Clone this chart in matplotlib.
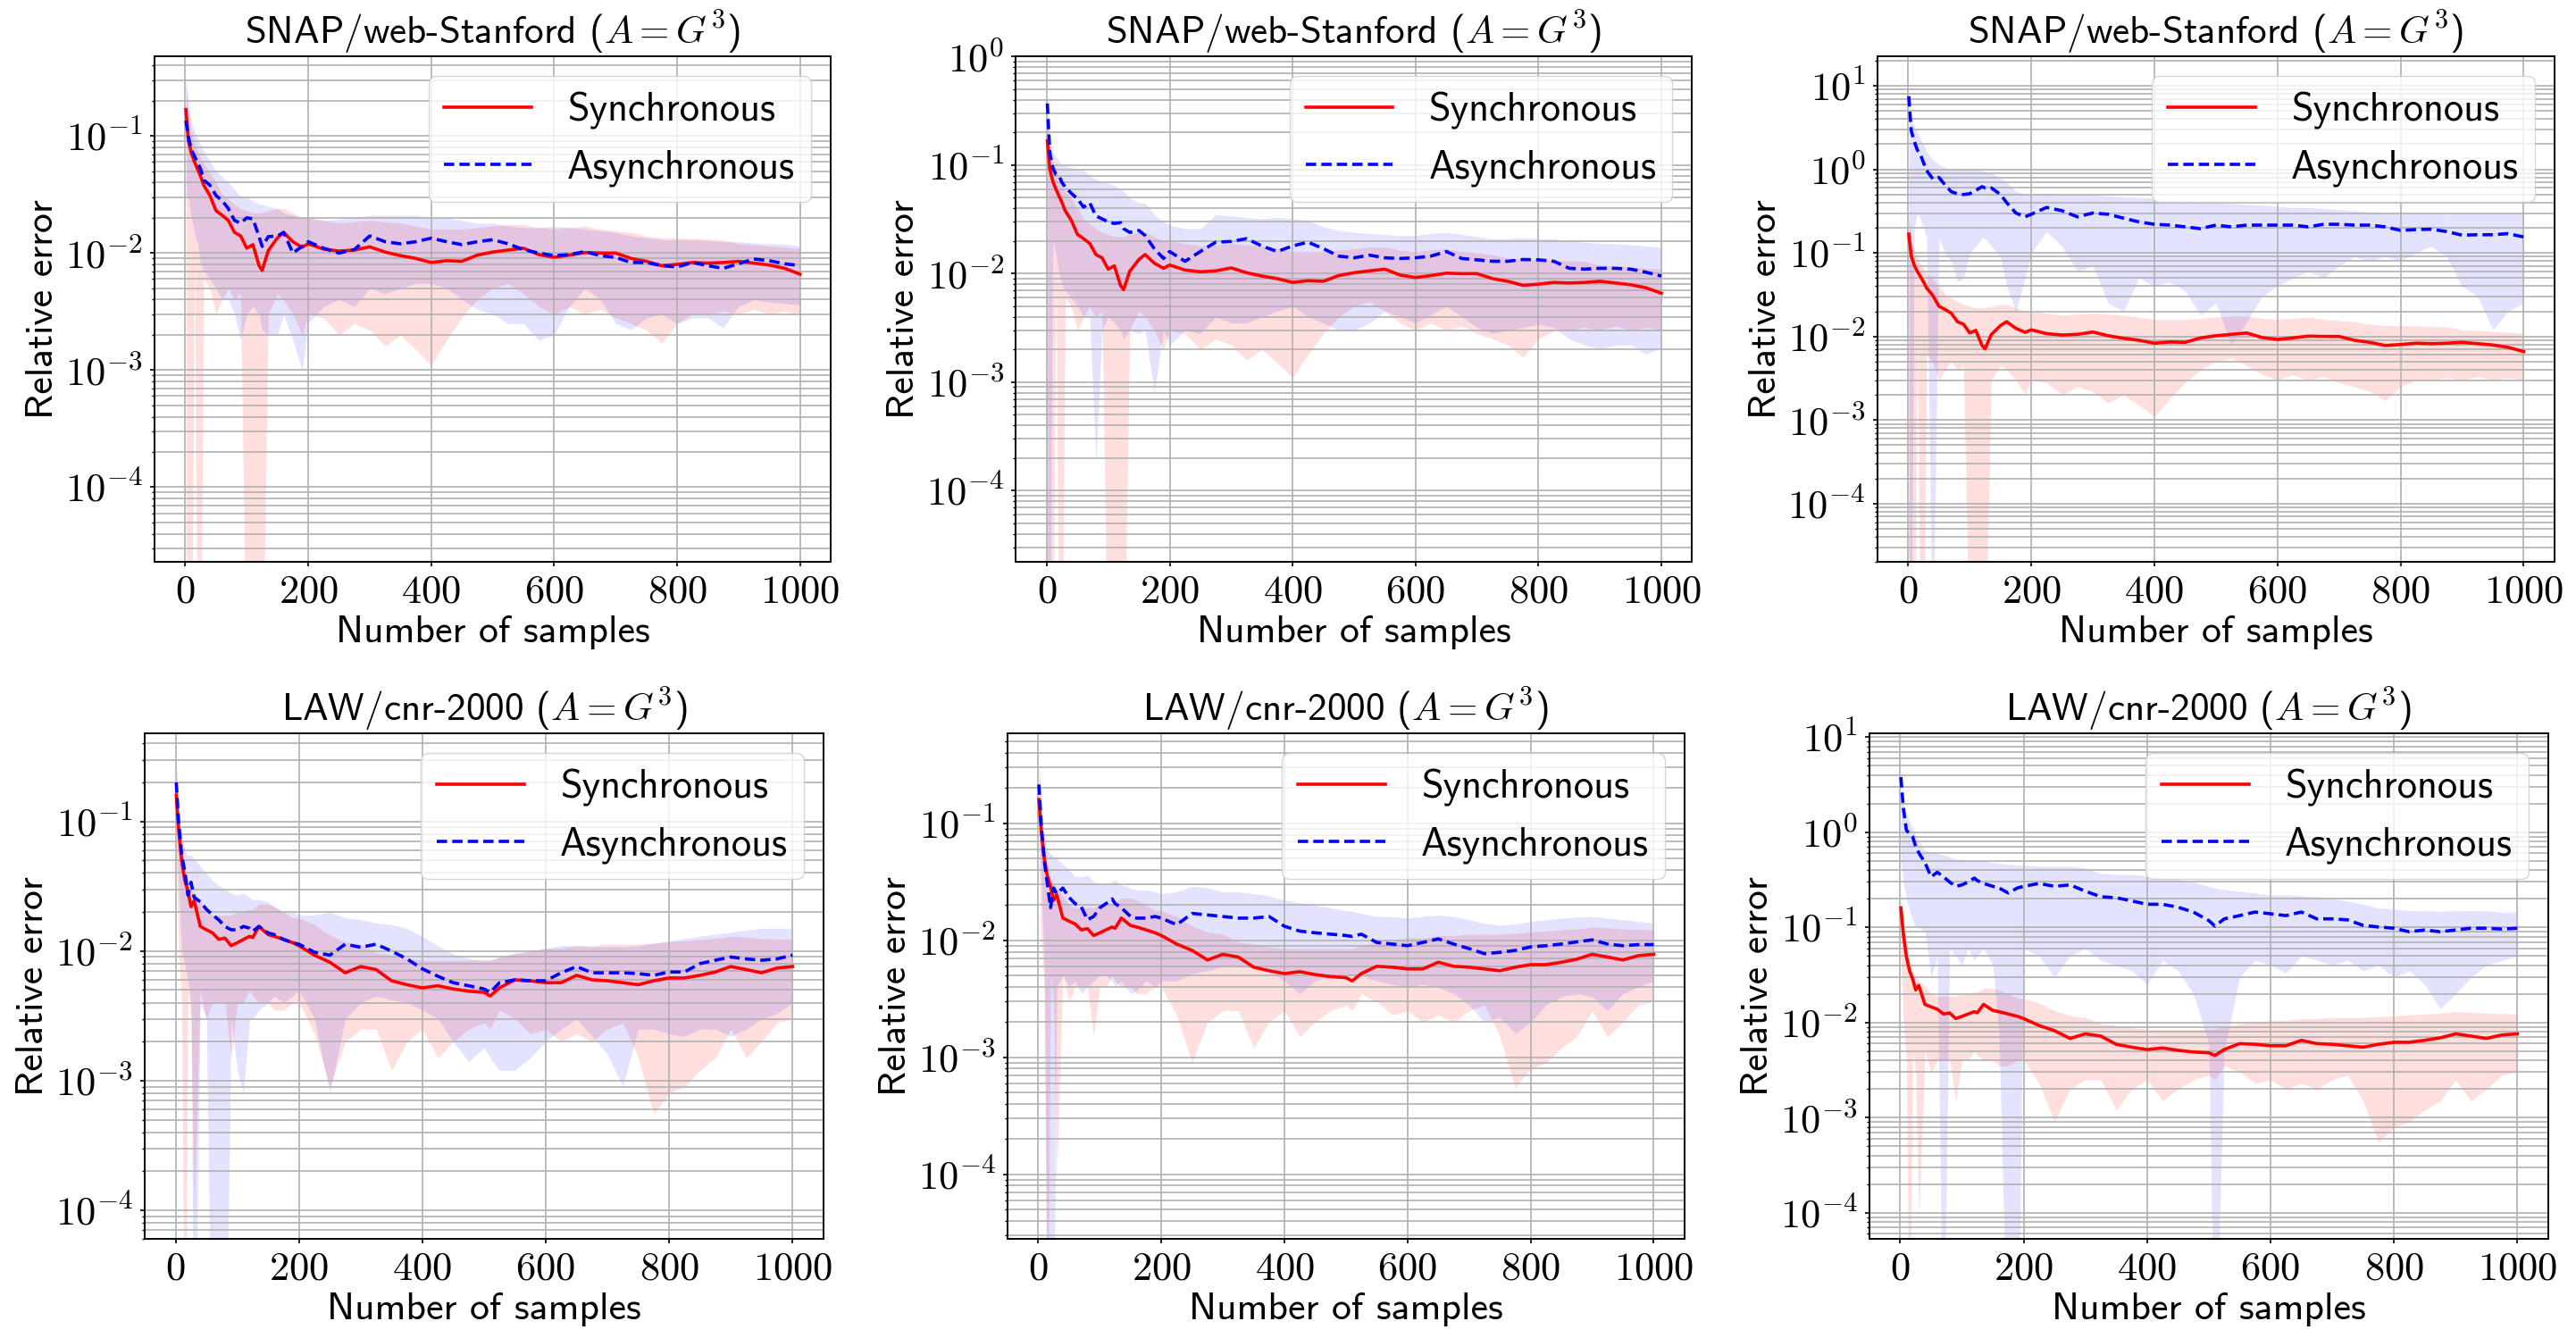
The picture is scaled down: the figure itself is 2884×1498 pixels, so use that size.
import numpy as np
import matplotlib
matplotlib.use("Agg")
import matplotlib.pyplot as plt
from matplotlib.ticker import LogLocator, NullFormatter, FuncFormatter

plt.rcParams['font.family'] = 'cmss10'
plt.rcParams['mathtext.fontset'] = 'cm'
plt.rcParams['axes.unicode_minus'] = False

# sample positions (top row: SNAP, bottom row: LAW)
x_snap = [1, 5, 10, 15, 20, 25, 30, 40, 50, 60, 70, 80, 90, 100, 110, 120, 125, 135, 150, 160, 175, 190,
          200, 225, 250, 275, 300, 325, 350, 375, 400, 425, 450, 475, 500, 525, 550, 575, 600, 625, 650,
          675, 700, 725, 750, 775, 800, 825, 850, 875, 900, 925, 950, 975, 1000]
x_law = [1, 5, 10, 15, 20, 25, 30, 40, 50, 60, 70, 80, 90, 100, 110, 120, 125, 135, 150, 160, 175, 190,
         200, 225, 250, 275, 300, 325, 350, 375, 400, 425, 450, 475, 500, 510, 525, 550, 575, 600, 625, 650,
         675, 700, 725, 750, 775, 800, 825, 850, 875, 900, 925, 950, 975, 1000]

# synchronous (same in every panel of a row)
sync_snap = [0.168, 0.092, 0.071, 0.060, 0.052, 0.045, 0.038, 0.031, 0.023, 0.021, 0.019, 0.015, 0.014, 0.011, 0.0118, 0.0078, 0.0071, 0.0105, 0.0135, 0.0150, 0.0125, 0.0112,
             0.0120, 0.0108, 0.0104, 0.0106, 0.0113, 0.0102, 0.0095, 0.0090, 0.0083, 0.0086, 0.0085, 0.0096, 0.0102, 0.0106, 0.0110, 0.0097, 0.0092, 0.0096, 0.0101, 0.0100, 0.0100, 0.0090, 0.0085, 0.0078, 0.0080, 0.0083, 0.0082, 0.0083, 0.0085, 0.0082, 0.0079, 0.0074, 0.0066]
sync_snap_hi = [0.30, 0.15, 0.11, 0.09, 0.075, 0.065, 0.058, 0.049, 0.040, 0.032, 0.029, 0.026, 0.024, 0.023, 0.022, 0.022, 0.022, 0.023, 0.024, 0.024, 0.022, 0.020,
                0.020, 0.019, 0.018, 0.0185, 0.019, 0.0185, 0.018, 0.017, 0.016, 0.016, 0.016, 0.0165, 0.017, 0.0175, 0.0175, 0.0165, 0.016, 0.0165, 0.017, 0.016, 0.0155, 0.015, 0.014, 0.0135, 0.0135, 0.0133, 0.0132, 0.013, 0.012, 0.0118, 0.0115, 0.0112, 0.011]
sync_snap_lo = [1e-6, 1e-6, 1e-6, 0.01, 1e-6, 1e-6, 0.006, 0.005, 0.003, 0.004, 0.005, 0.004, 0.0045, 1e-6, 1e-6, 1e-6, 1e-6, 0.003, 0.0045, 0.004, 0.003, 0.002,
                0.003, 0.0028, 0.002, 0.0025, 0.0022, 0.0016, 0.002, 0.0015, 0.0011, 0.0018, 0.0028, 0.004, 0.005, 0.0055, 0.0045, 0.0035, 0.003, 0.0035, 0.003, 0.0033, 0.0028, 0.0025, 0.0022, 0.0017, 0.0025, 0.003, 0.003, 0.0032, 0.003, 0.0033, 0.003, 0.0032, 0.003]

sync_law = [0.16, 0.086, 0.049, 0.035, 0.029, 0.022, 0.0245, 0.0155, 0.0146, 0.0138, 0.0123, 0.0126, 0.011, 0.0116, 0.0123, 0.013, 0.0127, 0.0155, 0.0134, 0.013, 0.0123, 0.0116,
            0.011, 0.0093, 0.0082, 0.0068, 0.0076, 0.0072, 0.0059, 0.0055, 0.0052, 0.0054, 0.0051, 0.0049, 0.0048, 0.0045, 0.0052, 0.006, 0.0059, 0.0057, 0.0057, 0.0065, 0.006, 0.0059, 0.0057, 0.0055, 0.0059, 0.0062, 0.0062, 0.0065, 0.0069, 0.0076, 0.0072, 0.0068, 0.0074, 0.0076]
sync_law_hi = [0.25, 0.10, 0.07, 0.046, 0.035, 0.03, 0.028, 0.024, 0.02, 0.019, 0.019, 0.019, 0.019, 0.02, 0.02, 0.021, 0.021, 0.023, 0.023, 0.022, 0.02, 0.018,
               0.018, 0.016, 0.0133, 0.0118, 0.0113, 0.0097, 0.0093, 0.0088, 0.0085, 0.0085, 0.0085, 0.0085, 0.0085, 0.0085, 0.009, 0.0097, 0.01, 0.0105, 0.0105, 0.011, 0.011, 0.0113, 0.0113, 0.0113, 0.0115, 0.0118, 0.012, 0.0123, 0.0125, 0.013, 0.0128, 0.0125, 0.0124, 0.0123]
sync_law_lo = [0.05, 0.01, 0.004, 1e-6, 0.005, 0.003, 9e-5, 0.005, 0.003, 0.004, 0.004, 0.004, 0.0015, 0.004, 0.004, 0.005, 0.0045, 0.004, 0.004, 0.0035, 0.0035, 0.004,
               0.004, 0.0023, 0.0009, 0.002, 0.0025, 0.0025, 0.0012, 0.002, 0.0025, 0.0015, 0.002, 0.0025, 0.0028, 0.0025, 0.0035, 0.003, 0.0023, 0.0025, 0.002, 0.0023, 0.002, 0.0025, 0.0028, 0.0015, 0.00055, 0.0008, 0.0009, 0.0012, 0.0015, 0.0025, 0.0015, 0.002, 0.0028, 0.003]

# asynchronous, one per panel
async_1 = [0.135, 0.098, 0.076, 0.067, 0.059, 0.052, 0.042, 0.038, 0.031, 0.028, 0.024, 0.019, 0.018, 0.020, 0.0196, 0.0138, 0.0114, 0.0138, 0.014, 0.015, 0.010, 0.0114,
           0.0125, 0.011, 0.010, 0.0107, 0.014, 0.0125, 0.012, 0.0125, 0.0134, 0.0125, 0.0118, 0.0125, 0.013, 0.012, 0.0107, 0.010, 0.0095, 0.0097, 0.0103, 0.0095, 0.0092, 0.0083, 0.0083, 0.0078, 0.0076, 0.0083, 0.0078, 0.0074, 0.0081, 0.0089, 0.0086, 0.0081, 0.0078]
async_1_hi = [0.30, 0.20, 0.13, 0.11, 0.095, 0.085, 0.075, 0.06, 0.05, 0.045, 0.04, 0.035, 0.03, 0.03, 0.028, 0.026, 0.026, 0.025, 0.024, 0.022, 0.021, 0.02,
              0.02, 0.019, 0.0195, 0.02, 0.021, 0.021, 0.021, 0.021, 0.02, 0.02, 0.019, 0.018, 0.018, 0.017, 0.0165, 0.0165, 0.017, 0.0165, 0.016, 0.0155, 0.015, 0.014, 0.0135, 0.013, 0.013, 0.013, 0.0128, 0.0125, 0.0125, 0.0122, 0.012, 0.012, 0.0115]
async_1_lo = [0.03, 0.03, 0.02, 0.015, 0.012, 0.008, 0.007, 0.006, 0.005, 0.004, 0.004, 0.003, 0.0018, 0.003, 0.0035, 0.003, 0.0022, 0.002, 0.002, 0.003, 0.0018, 0.001,
              0.0025, 0.0035, 0.004, 0.0035, 0.005, 0.0045, 0.005, 0.0055, 0.0055, 0.005, 0.004, 0.0033, 0.003, 0.0025, 0.0025, 0.0018, 0.002, 0.0035, 0.005, 0.004, 0.0025, 0.0022, 0.0028, 0.003, 0.0025, 0.0028, 0.0028, 0.0023, 0.0035, 0.004, 0.0038, 0.0037, 0.0036]

async_2 = [0.37, 0.13, 0.094, 0.082, 0.08, 0.069, 0.063, 0.055, 0.049, 0.041, 0.045, 0.034, 0.032, 0.030, 0.029, 0.0295, 0.026, 0.024, 0.025, 0.0225, 0.017, 0.0138,
           0.016, 0.013, 0.016, 0.0195, 0.0198, 0.021, 0.018, 0.016, 0.018, 0.0195, 0.017, 0.0145, 0.014, 0.0148, 0.014, 0.0138, 0.014, 0.0145, 0.016, 0.0138, 0.0134, 0.013, 0.013, 0.0135, 0.0134, 0.013, 0.0112, 0.011, 0.0112, 0.0112, 0.011, 0.0103, 0.0095]
async_2_hi = [0.45, 0.18, 0.13, 0.12, 0.11, 0.10, 0.10, 0.095, 0.09, 0.09, 0.08, 0.075, 0.07, 0.068, 0.065, 0.06, 0.058, 0.05, 0.045, 0.045, 0.035, 0.03,
              0.028, 0.026, 0.026, 0.035, 0.034, 0.033, 0.032, 0.033, 0.032, 0.031, 0.027, 0.025, 0.024, 0.0235, 0.023, 0.0225, 0.0225, 0.0235, 0.024, 0.023, 0.022, 0.021, 0.021, 0.0215, 0.021, 0.021, 0.02, 0.0195, 0.019, 0.0188, 0.0185, 0.018, 0.0175]
async_2_lo = [1e-6, 1e-6, 0.02, 0.015, 0.01, 0.008, 0.007, 0.006, 0.005, 0.004, 0.004, 0.00018, 0.003, 0.004, 0.0035, 0.003, 0.0025, 0.003, 0.0028, 0.003, 0.0008, 0.003,
              0.0022, 0.003, 0.0028, 0.004, 0.0035, 0.0035, 0.004, 0.0045, 0.005, 0.004, 0.0035, 0.003, 0.003, 0.0035, 0.0045, 0.004, 0.0035, 0.0042, 0.005, 0.004, 0.0032, 0.0028, 0.003, 0.0032, 0.0034, 0.0032, 0.0025, 0.0022, 0.002, 0.0022, 0.0022, 0.0018, 0.0021]

async_3 = [7.5, 2.9, 2.15, 1.7, 1.5, 1.2, 0.97, 0.77, 0.8, 0.65, 0.54, 0.51, 0.50, 0.51, 0.56, 0.62, 0.6, 0.6, 0.5, 0.40, 0.30, 0.27,
           0.29, 0.35, 0.32, 0.27, 0.30, 0.29, 0.26, 0.235, 0.22, 0.215, 0.205, 0.195, 0.215, 0.205, 0.215, 0.215, 0.215, 0.215, 0.205, 0.22, 0.22, 0.215, 0.215, 0.205, 0.186, 0.19, 0.192, 0.18, 0.163, 0.165, 0.165, 0.17, 0.155]
async_3_hi = [9.0, 3.8, 3.3, 2.8, 2.3, 2.0, 1.6, 1.3, 1.15, 1.05, 1.0, 1.0, 1.0, 1.0, 1.0, 0.98, 0.95, 0.9, 0.8, 0.7, 0.55, 0.5,
              0.5, 0.52, 0.5, 0.5, 0.5, 0.48, 0.47, 0.46, 0.45, 0.43, 0.42, 0.41, 0.4, 0.39, 0.38, 0.37, 0.36, 0.35, 0.35, 0.34, 0.33, 0.32, 0.31, 0.3, 0.3, 0.3, 0.3, 0.29, 0.3, 0.3, 0.3, 0.3, 0.3]
async_3_lo = [1e-6, 1e-6, 0.2, 0.3, 0.25, 0.2, 0.15, 1e-6, 0.15, 0.1, 0.08, 0.045, 0.05, 0.1, 0.12, 0.15, 0.15, 0.12, 0.09, 0.04, 0.02, 0.05,
              0.1, 0.18, 0.12, 0.06, 0.07, 0.025, 0.02, 0.05, 0.04, 0.045, 0.035, 0.018, 0.025, 0.008, 0.015, 0.03, 0.04, 0.05, 0.06, 0.05, 0.07, 0.09, 0.08, 0.09, 0.08, 0.1, 0.12, 0.09, 0.04, 0.03, 0.012, 0.02, 0.025]

async_4 = [0.2, 0.097, 0.054, 0.041, 0.027, 0.034, 0.026, 0.024, 0.021, 0.019, 0.0174, 0.0155, 0.0146, 0.0146, 0.0155, 0.015, 0.0142, 0.0155, 0.0138, 0.0134, 0.0123, 0.0116,
           0.0113, 0.0098, 0.0093, 0.0113, 0.0107, 0.0113, 0.01, 0.0087, 0.0073, 0.0064, 0.0057, 0.0054, 0.0051, 0.0048, 0.0057, 0.006, 0.0059, 0.0059, 0.0068, 0.0076, 0.0068, 0.0068, 0.0068, 0.0067, 0.0065, 0.0069, 0.0069, 0.008, 0.0085, 0.009, 0.0087, 0.0085, 0.0087, 0.0093]
async_4_hi = [0.3, 0.13, 0.08, 0.06, 0.055, 0.055, 0.052, 0.045, 0.04, 0.035, 0.032, 0.03, 0.028, 0.027, 0.028, 0.026, 0.025, 0.025, 0.024, 0.022, 0.02, 0.02,
              0.019, 0.019, 0.02, 0.018, 0.0175, 0.0165, 0.016, 0.015, 0.013, 0.011, 0.0095, 0.0088, 0.0085, 0.0085, 0.009, 0.0095, 0.01, 0.0105, 0.011, 0.011, 0.0108, 0.0108, 0.0108, 0.011, 0.0115, 0.012, 0.0125, 0.013, 0.0135, 0.014, 0.0145, 0.015, 0.015, 0.015]
async_4_lo = [0.1, 0.03, 0.01, 0.008, 0.006, 0.004, 1e-6, 0.004, 0.003, 1e-6, 1e-6, 1e-6, 0.003, 0.0012, 0.0008, 0.003, 0.003, 0.0035, 0.004, 0.0045, 0.004, 0.0045,
              0.005, 0.003, 0.0008, 0.003, 0.004, 0.0045, 0.0042, 0.004, 0.0035, 0.003, 0.002, 0.0014, 0.0018, 0.0015, 0.0012, 0.0012, 0.0015, 0.002, 0.0025, 0.003, 0.0022, 0.0016, 0.0009, 0.0025, 0.0025, 0.0023, 0.0022, 0.0025, 0.0025, 0.0022, 0.0025, 0.003, 0.0033, 0.004]

async_5 = [0.215, 0.094, 0.047, 0.030, 0.019, 0.028, 0.025, 0.028, 0.0233, 0.0206, 0.0193, 0.015, 0.016, 0.019, 0.0206, 0.0226, 0.0206, 0.019, 0.016, 0.0155, 0.0155, 0.016,
           0.0155, 0.0136, 0.017, 0.0165, 0.016, 0.0155, 0.0155, 0.016, 0.0132, 0.012, 0.0116, 0.0113, 0.011, 0.0108, 0.0113, 0.0096, 0.0093, 0.009, 0.0096, 0.0103, 0.0093, 0.0085, 0.0077, 0.0079, 0.0082, 0.0088, 0.009, 0.0093, 0.0097, 0.0101, 0.0093, 0.009, 0.0092, 0.0092]
async_5_hi = [0.35, 0.15, 0.07, 0.06, 0.055, 0.052, 0.05, 0.045, 0.04, 0.035, 0.035, 0.036, 0.032, 0.03, 0.03, 0.032, 0.033, 0.03, 0.028, 0.027, 0.027, 0.026,
              0.025, 0.026, 0.029, 0.028, 0.026, 0.026, 0.025, 0.024, 0.022, 0.021, 0.02, 0.019, 0.018, 0.0178, 0.017, 0.016, 0.016, 0.0155, 0.016, 0.0165, 0.016, 0.015, 0.014, 0.0135, 0.0138, 0.0145, 0.015, 0.0155, 0.0158, 0.016, 0.0155, 0.015, 0.0145, 0.014]
async_5_lo = [0.1, 0.03, 0.005, 1e-6, 1e-6, 1e-6, 0.004, 0.005, 0.004, 0.0045, 0.0035, 0.004, 0.0045, 0.005, 0.005, 0.0045, 0.004, 0.0045, 0.0035, 0.0037, 0.0045, 0.004,
              0.0045, 0.0045, 0.0052, 0.0055, 0.006, 0.006, 0.0058, 0.0055, 0.0045, 0.0035, 0.0045, 0.005, 0.0052, 0.005, 0.005, 0.0045, 0.0042, 0.004, 0.0042, 0.004, 0.0035, 0.0028, 0.002, 0.0022, 0.0016, 0.002, 0.0028, 0.0033, 0.0035, 0.0033, 0.0025, 0.0035, 0.004, 0.0045]

async_6 = [3.8, 1.8, 1.05, 0.97, 0.9, 0.71, 0.61, 0.48, 0.34, 0.38, 0.34, 0.30, 0.27, 0.28, 0.30, 0.33, 0.31, 0.29, 0.27, 0.26, 0.23, 0.26,
           0.27, 0.29, 0.27, 0.28, 0.24, 0.21, 0.205, 0.19, 0.175, 0.175, 0.163, 0.145, 0.118, 0.103, 0.123, 0.133, 0.145, 0.139, 0.133, 0.145, 0.123, 0.123, 0.12, 0.105, 0.101, 0.098, 0.09, 0.094, 0.09, 0.094, 0.098, 0.098, 0.096, 0.098]
async_6_hi = [4.5, 2.0, 1.6, 1.3, 1.1, 0.9, 0.8, 0.65, 0.62, 0.6, 0.58, 0.55, 0.52, 0.52, 0.5, 0.5, 0.5, 0.5, 0.48, 0.47, 0.46, 0.45,
              0.45, 0.44, 0.44, 0.44, 0.42, 0.37, 0.36, 0.36, 0.35, 0.33, 0.32, 0.3, 0.27, 0.26, 0.25, 0.24, 0.23, 0.22, 0.22, 0.215, 0.21, 0.2, 0.19, 0.175, 0.16, 0.155, 0.15, 0.15, 0.148, 0.15, 0.15, 0.15, 0.145, 0.145]
async_6_lo = [0.5, 0.3, 0.2, 0.15, 0.12, 0.1, 0.1, 0.09, 0.03, 0.05, 1e-6, 0.06, 0.05, 0.04, 0.06, 0.045, 0.05, 0.06, 0.04, 0.008, 1e-6, 1e-6,
              0.06, 0.05, 0.03, 0.05, 0.06, 0.045, 0.04, 0.035, 0.025, 0.045, 0.035, 0.02, 0.006, 1e-6, 0.005, 0.03, 0.045, 0.04, 0.033, 0.05, 0.045, 0.04, 0.045, 0.035, 0.04, 0.03, 0.035, 0.025, 0.014, 0.02, 0.03, 0.04, 0.045, 0.05]

titles = [r'SNAP/web-Stanford ($A = G^{\mathrm{3}}$)'] * 3 + [r'LAW/cnr-2000 ($A = G^{\mathrm{3}}$)'] * 3

FS_TITLE = 31
FS_LABEL = 31.5
FS_LEGEND = 32
FS_TICK = 32
fig = plt.figure(figsize=(28.84, 14.98), dpi=100)


def log_label(v, pos):
    e = int(round(np.log10(v)))
    if e < 0:
        return r'$\mathrm{10}^{-\mathrm{%d}}$' % (-e)
    return r'$\mathrm{10}^{\mathrm{%d}}$' % e


def lin_label(v, pos):
    return r'$\mathrm{%d}$' % int(round(v))


def panel(pos, title, x, s, s_lo, s_hi, a, a_lo, a_hi, ylim):
    ax = fig.add_axes(pos)
    ax.plot(x, s, color='red', lw=2.6, label='Synchronous')
    ax.fill_between(x, s_lo, s_hi, color='red', alpha=0.13, lw=0)
    ax.plot(x, a, color='blue', ls='--', dashes=(3.2, 1.6), lw=2.6, label='Asynchronous')
    ax.fill_between(x, a_lo, a_hi, color='blue', alpha=0.11, lw=0)
    ax.set_yscale('log')
    ax.set_ylim(ylim)
    ax.set_xlim(-50, 1050)
    ax.set_xticks([0, 200, 400, 600, 800, 1000])
    ax.xaxis.set_major_formatter(FuncFormatter(lin_label))
    ax.yaxis.set_major_locator(LogLocator(base=10, numticks=20))
    ax.yaxis.set_major_formatter(FuncFormatter(log_label))
    ax.yaxis.set_minor_locator(LogLocator(base=10, subs=np.arange(2, 10), numticks=40))
    ax.yaxis.set_minor_formatter(NullFormatter())
    ax.grid(True, which='both', color='#b0b0b0', lw=1.2)
    ax.tick_params(labelsize=FS_TICK, width=1.2, pad=6)
    ax.tick_params(which='minor', width=1.0)
    for sp in ax.spines.values():
        sp.set_linewidth(1.4)
    ax.set_title(title, fontsize=FS_TITLE)
    ax.set_xlabel('Number of samples', fontsize=FS_LABEL)
    ax.set_ylabel('Relative error', fontsize=FS_LABEL)
    ax.legend(loc='upper right', fontsize=FS_LEGEND, handlelength=2.2, handletextpad=0.9)
    return ax


panel([0.0600, 0.580, 0.2625, 0.378], titles[0], x_snap, sync_snap, sync_snap_lo, sync_snap_hi,
      async_1, async_1_lo, async_1_hi, (2.3e-5, 0.48))
panel([0.3944, 0.580, 0.2625, 0.378], titles[1], x_snap, sync_snap, sync_snap_lo, sync_snap_hi,
      async_2, async_2_lo, async_2_hi, (2.2e-5, 1.01))
panel([0.7288, 0.580, 0.2628, 0.378], titles[2], x_snap, sync_snap, sync_snap_lo, sync_snap_hi,
      async_3, async_3_lo, async_3_hi, (2.0e-5, 22.6))
panel([0.0562, 0.074, 0.2634, 0.378], titles[3], x_law, sync_law, sync_law_lo, sync_law_hi,
      async_4, async_4_lo, async_4_hi, (6.0e-5, 0.48))
panel([0.3911, 0.074, 0.2628, 0.378], titles[4], x_law, sync_law, sync_law_lo, sync_law_hi,
      async_5, async_5_lo, async_5_hi, (2.8e-5, 0.59))
panel([0.7257, 0.074, 0.2635, 0.378], titles[5], x_law, sync_law, sync_law_lo, sync_law_hi,
      async_6, async_6_lo, async_6_hi, (5.3e-5, 11.0))

fig.savefig('out.png', dpi=100)
